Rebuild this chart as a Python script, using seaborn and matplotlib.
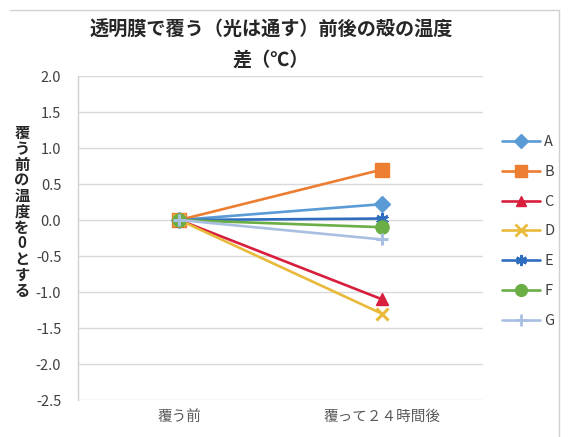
import matplotlib
matplotlib.use("Agg")
import matplotlib.pyplot as plt
from matplotlib.lines import Line2D
import seaborn as sns
import pandas as pd

# Data: temperature difference of shells before / 24 h after covering (°C)
times = ["覆う前", "覆って２４時間後"]
series = ["A", "B", "C", "D", "E", "F", "G"]
before = [0.0, 0.0, 0.0, 0.0, 0.0, 0.0, 0.0]
after = [0.22, 0.70, -1.10, -1.30, 0.02, -0.10, -0.27]
yticks = [2.0, 1.5, 1.0, 0.5, 0.0, -0.5, -1.0, -1.5, -2.0, -2.5]

colors = {"A": "#5B9BD5", "B": "#ED7D31", "C": "#D81E3C", "D": "#E9B93A",
          "E": "#2F6EBE", "F": "#6AAE45", "G": "#A8BFE2"}
markers = {"A": "D", "B": "s", "C": "^", "D": "x", "E": (6, 2, 0), "F": "o", "G": "+"}
msizes = {"A": 8.5, "B": 9.5, "C": 8.5, "D": 9, "E": 9, "F": 9.5, "G": 9}

rows = []
for s, b, a in zip(series, before, after):
    rows.append({"time": times[0], "series": s, "value": b})
    rows.append({"time": times[1], "series": s, "value": a})
df = pd.DataFrame(rows)

sns.set_theme(style="white")
plt.rcParams["font.family"] = ["Noto Sans CJK JP", "DejaVu Sans"]

fig = plt.figure(figsize=(5.69, 4.37), dpi=100)
fig.patch.set_facecolor("white")
ax = fig.add_axes([78 / 569, 1 - 400 / 437, (483 - 78) / 569, (400 - 76) / 437])

sns.lineplot(data=df, x="time", y="value", hue="series", palette=colors,
             linewidth=1.9, legend=False, ax=ax, sort=False)
for line, s in zip(ax.get_lines(), series):
    line.set_marker(markers[s])
    line.set_markersize(msizes[s])
    line.set_markeredgewidth(2.2 if s in ("D", "E", "G") else 1.0)
    line.set_markerfacecolor(colors[s])
    line.set_markeredgecolor(colors[s])

ax.set_xlim(-0.5, 1.5)
ax.set_ylim(-2.5, 2.0)
ax.set_yticks(yticks)
ax.set_yticklabels([f"{t:.1f}" for t in yticks], fontsize=10.5, color="#404040")
ax.set_xticks([0, 1])
ax.set_xticklabels(times, fontsize=10.5, color="#595959")
ax.tick_params(axis="y", length=0, pad=12)
ax.tick_params(axis="x", length=0, pad=7)
ax.set_xlabel("")
ax.set_ylabel("")
ax.yaxis.grid(True, color="#D9D9D9", linewidth=1.0)
ax.set_axisbelow(True)
for side in ("top", "right", "bottom"):
    ax.spines[side].set_visible(False)
ax.spines["left"].set_color("#D0D0D0")
ax.spines["left"].set_linewidth(1.0)

# Title and vertically stacked axis label
fig.text(271 / 569, 1 - 30 / 437, "透明膜で覆う（光は通す）前後の殻の温度",
         ha="center", va="center", fontsize=13.8, fontweight="bold", color="#262626")
fig.text(271 / 569, 1 - 60 / 437, "差（℃）",
         ha="center", va="center", fontsize=13.8, fontweight="bold", color="#262626")
fig.text(22 / 569, 1 - 212 / 437, "\n".join("覆う前の温度を0とする"),
         ha="center", va="center", fontsize=11, fontweight="bold",
         color="#262626", linespacing=0.98)

# Legend on the right
handles = [Line2D([], [], color=colors[s], marker=markers[s], markersize=msizes[s] - 1,
                  markerfacecolor=colors[s], markeredgecolor=colors[s],
                  markeredgewidth=2.0 if s in ("D", "E", "G") else 1.0,
                  linewidth=1.9) for s in series]
fig.legend(handles, series, loc="upper left", bbox_to_anchor=(489 / 569, 1 - 122 / 437),
           frameon=False, fontsize=10.5, labelspacing=1.08, handlelength=2.6,
           handletextpad=0.3, labelcolor="#404040")

# Outer frame
fig.add_artist(Line2D([10 / 569, 559 / 569], [1 - 10 / 437, 1 - 10 / 437],
                      color="#D0D0D0", linewidth=1.0, transform=fig.transFigure))
fig.add_artist(Line2D([559 / 569, 559 / 569], [1 - 10 / 437, 0],
                      color="#D0D0D0", linewidth=1.0, transform=fig.transFigure))

fig.savefig("out.png", dpi=100, facecolor="white")
